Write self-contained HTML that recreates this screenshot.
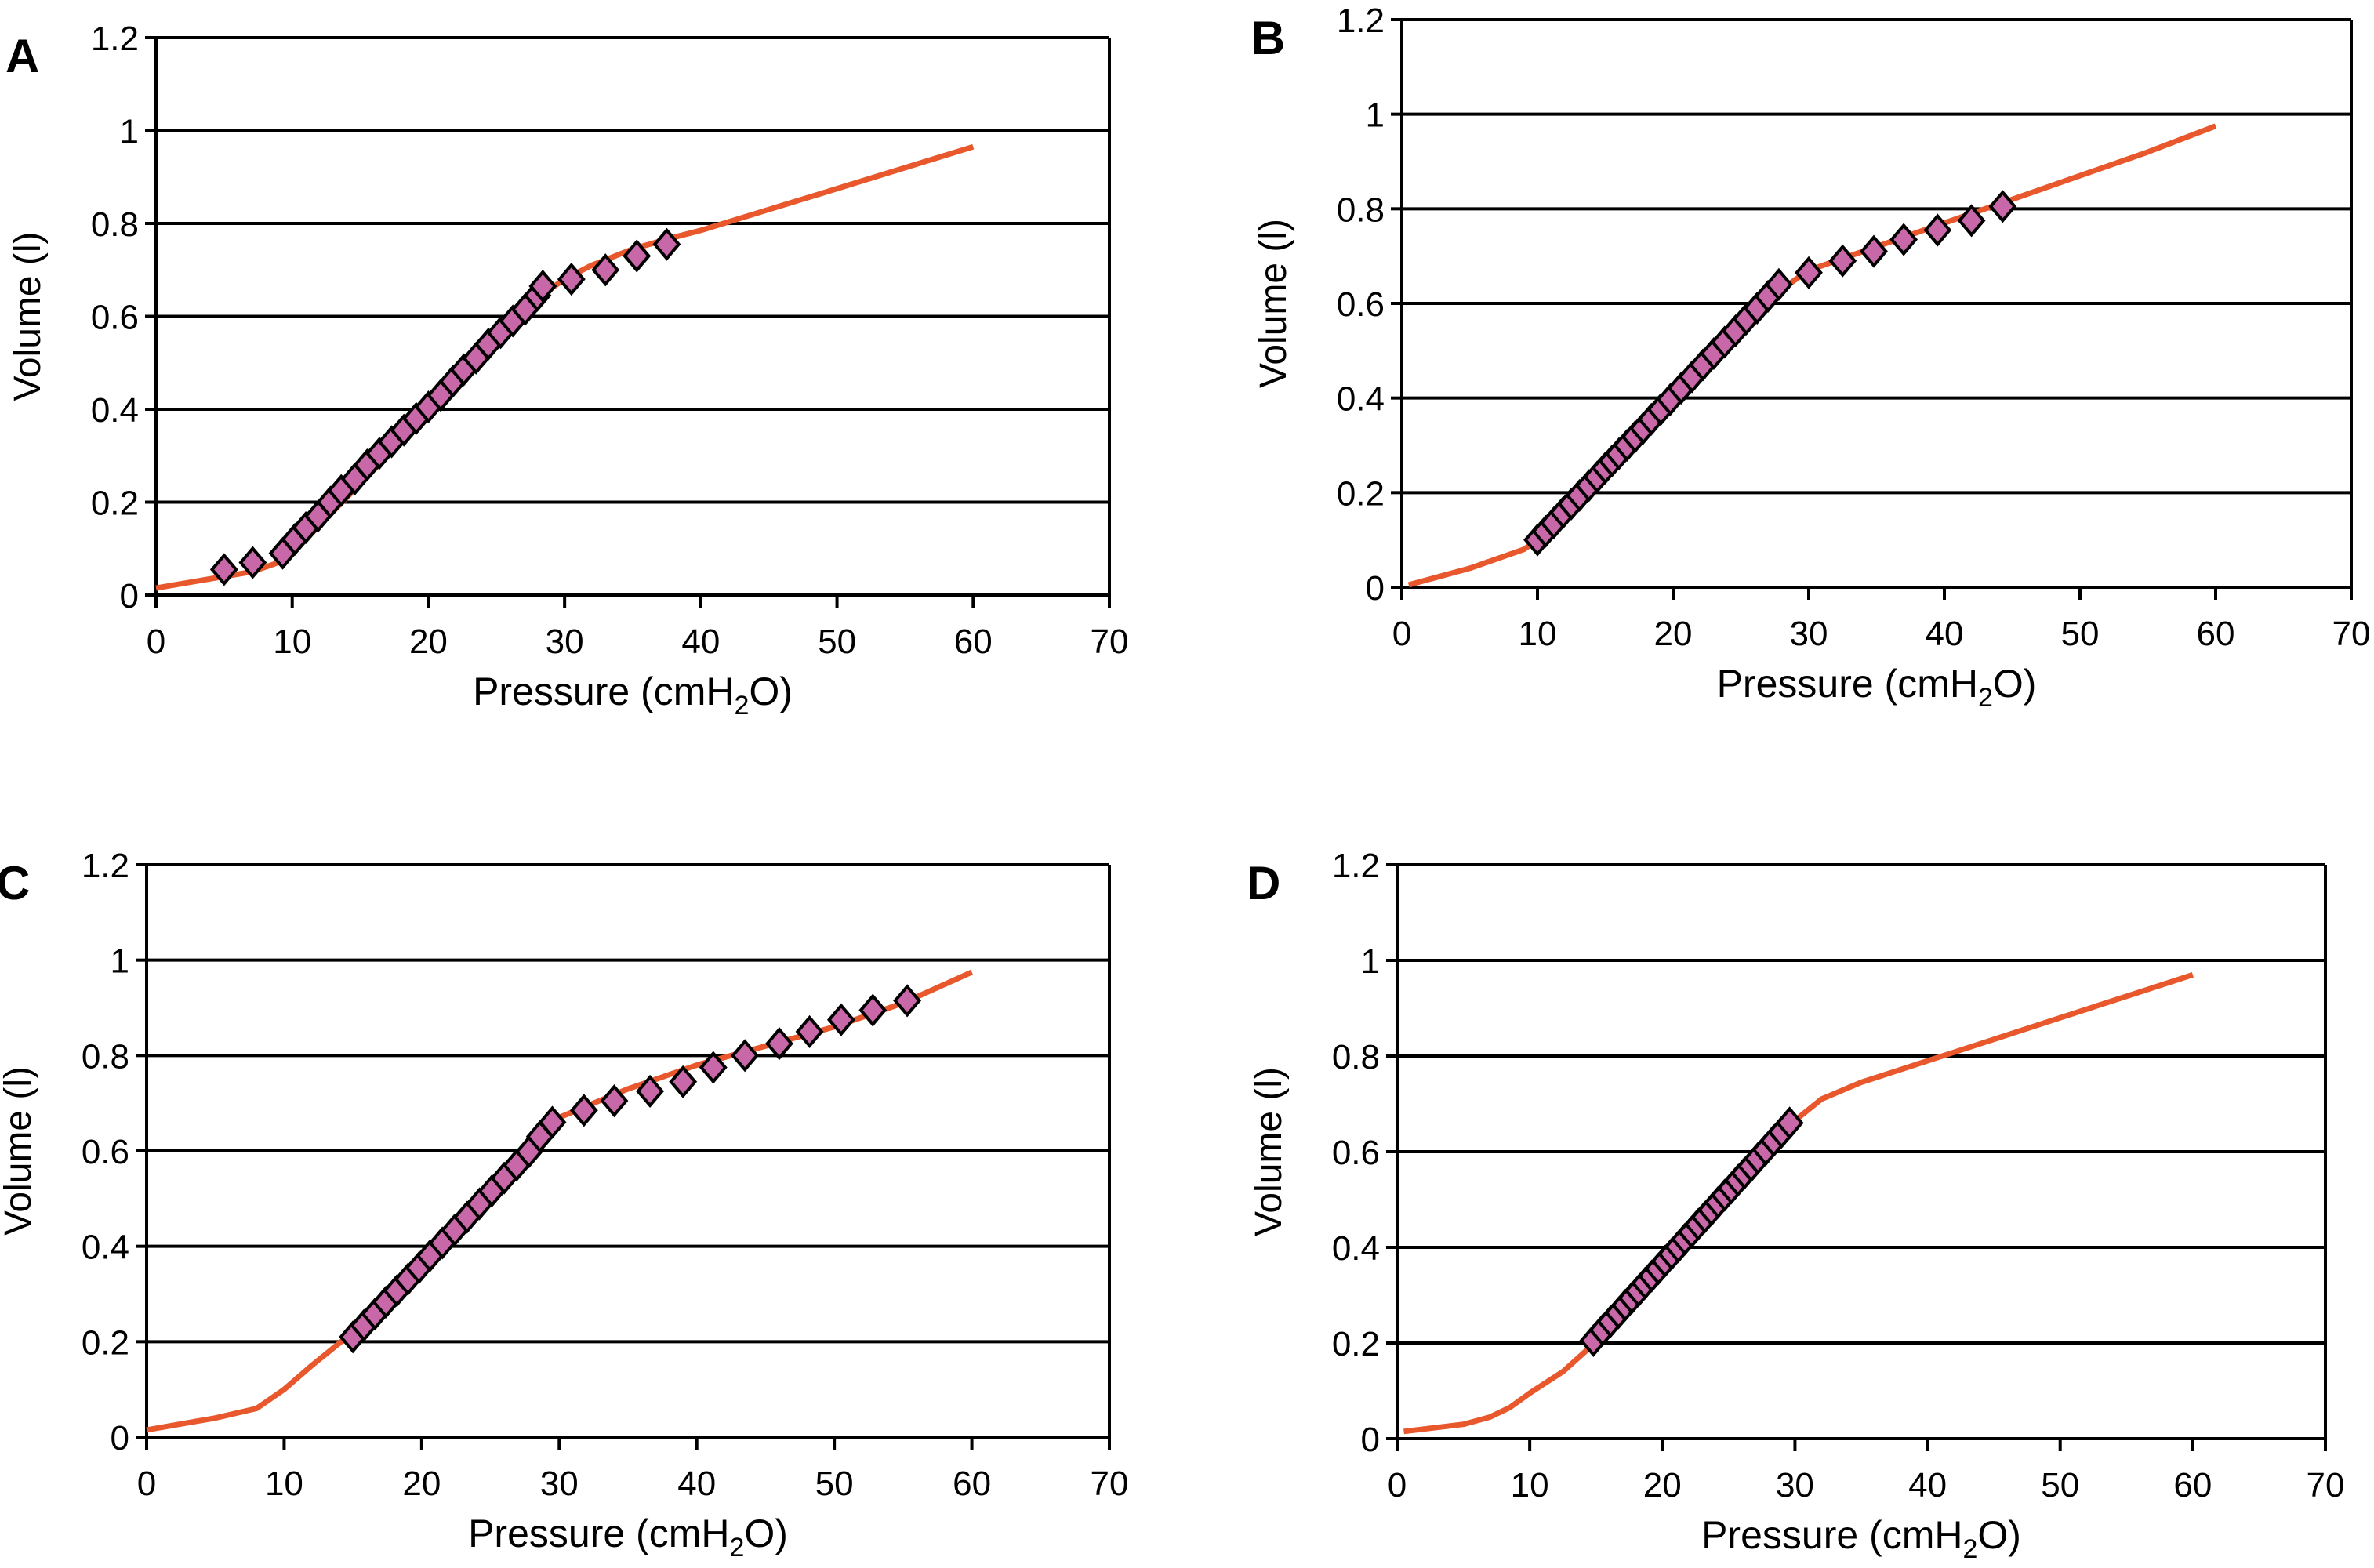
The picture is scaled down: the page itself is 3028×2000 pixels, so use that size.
<!DOCTYPE html>
<html><head><meta charset="utf-8"><style>
html,body{margin:0;padding:0;background:#fff;}
svg{display:block;}
text{font-family:"Liberation Sans Narrow","Liberation Sans",sans-serif;fill:#000;}
</style></head><body>
<svg id="chart" width="3028" height="2000" viewBox="0 0 3028 2000" xmlns="http://www.w3.org/2000/svg"></svg>
<script>
const xTicks=[0,10,20,30,40,50,60,70];
const yTicks=[0,0.2,0.4,0.6,0.8,1,1.2];
const yTickLabels=["0","0.2","0.4","0.6","0.8","1","1.2"];
const panelLetters=["A","B","C","D"];

const curveAx=[0,3,5,7,9,10,12,15,20,25,27,28,30,32,35,38,40,45,50,55,60];
const curveAy=[0.015,0.03,0.04,0.05,0.07,0.09,0.15,0.24,0.39,0.54,0.61,0.64,0.68,0.71,0.745,0.77,0.785,0.83,0.875,0.92,0.965];
const ptsAx=[5,7.1,9.3,10.2,11,11.9,12.8,13.6,14.6,15.5,16.4,17.3,18.2,19.1,20,20.9,21.8,22.6,23.5,24.4,25.3,26.2,27.1,28,28.4,30.5,33,35.3,37.5];
const ptsAy=[0.055,0.07,0.09,0.12,0.145,0.17,0.2,0.225,0.25,0.28,0.305,0.33,0.355,0.38,0.405,0.43,0.46,0.485,0.51,0.54,0.565,0.59,0.615,0.645,0.665,0.68,0.7,0.73,0.755];

const curveBx=[0.5,5,9,10,12,15,20,25,27,28,30,35,40,45,50,55,60];
const curveBy=[0.005,0.04,0.08,0.1,0.14,0.24,0.39,0.54,0.6,0.63,0.67,0.72,0.77,0.82,0.87,0.92,0.975];
const ptsBx=[10,10.6,11.2,11.9,12.5,13.1,13.8,14.4,15,15.5,16,16.6,17.2,17.8,18.4,19.1,19.8,20.6,21.4,22.2,23,23.8,24.6,25.4,26.2,27,27.8,30,32.5,34.8,37,39.5,42,44.3];
const ptsBy=[0.1,0.118,0.136,0.158,0.176,0.194,0.215,0.233,0.252,0.267,0.282,0.3,0.318,0.336,0.355,0.376,0.397,0.421,0.445,0.47,0.494,0.518,0.542,0.567,0.59,0.615,0.64,0.665,0.69,0.71,0.735,0.755,0.775,0.805];

const curveCx=[0,5,8,10,12,15,20,25,28,30,35,40,45,50,55,60];
const curveCy=[0.015,0.04,0.06,0.1,0.15,0.22,0.38,0.53,0.62,0.67,0.73,0.78,0.82,0.86,0.91,0.975];
const ptsCx=[15,15.8,16.6,17.4,18.2,19,19.8,20.6,21.5,22.4,23.3,24.2,25.1,26,26.9,27.8,28.6,29.5,31.8,34,36.6,39,41.2,43.5,46,48.2,50.5,52.8,55.3];
const ptsCy=[0.21,0.234,0.258,0.283,0.307,0.331,0.355,0.38,0.407,0.434,0.461,0.489,0.516,0.543,0.57,0.598,0.63,0.66,0.685,0.705,0.725,0.745,0.775,0.8,0.825,0.85,0.875,0.895,0.915];

const curveDx=[0.5,5,7,8.5,10,12.5,14.5,15,20,25,29,30,32,35,40,45,50,55,60];
const curveDy=[0.015,0.03,0.045,0.065,0.095,0.14,0.19,0.21,0.36,0.51,0.63,0.665,0.71,0.745,0.79,0.835,0.88,0.925,0.97];
const ptsDx=[14.8,15.5,16.1,16.7,17.2,17.7,18.2,18.7,19.2,19.7,20.2,20.7,21.2,21.7,22.2,22.7,23.2,23.7,24.2,24.7,25.2,25.7,26.2,26.7,27.2,27.8,28.4,29,29.6];
const ptsDy=[0.205,0.227,0.245,0.263,0.279,0.294,0.309,0.325,0.34,0.355,0.371,0.386,0.401,0.417,0.432,0.448,0.463,0.478,0.494,0.509,0.524,0.54,0.555,0.57,0.586,0.604,0.623,0.641,0.66];

const NS="http://www.w3.org/2000/svg";
const svg=document.getElementById('chart');
function mk(tag,attrs,parent){const e=document.createElementNS(NS,tag);for(const k in attrs)e.setAttribute(k,attrs[k]);(parent||svg).appendChild(e);return e;}

const panels=[
 {box:[199,48,1415,759],cx:curveAx,cy:curveAy,px:ptsAx,py:ptsAy},
 {box:[1788,25,2999,749],cx:curveBx,cy:curveBy,px:ptsBx,py:ptsBy},
 {box:[187,1103,1415,1833],cx:curveCx,cy:curveCy,px:ptsCx,py:ptsCy},
 {box:[1782,1103,2966,1835],cx:curveDx,cy:curveDy,px:ptsDx,py:ptsDy}
];

panels.forEach((p,i)=>{
 const [x0,y0,x1,y1]=p.box;
 const sx=v=>x0+(x1-x0)*v/70;
 const sy=v=>y1-(y1-y0)*v/1.2;
 const g=mk('g',{});
 
 
 const lt=mk('text',{x:x0-192,y:y0+44,'font-size':60,'font-weight':'bold','font-family':'Liberation Sans, sans-serif'},g);
 lt.textContent=panelLetters[i];
 
 
 yTicks.forEach((t,j)=>{
  const y=sy(t);
  if(j>0){const gl=mk('line',{x1:x0,x2:x1,y1:y,y2:y,stroke:'#000','stroke-width':4},g);
   
   }
  mk('line',{x1:x0-14,x2:x0,y1:y,y2:y,stroke:'#000','stroke-width':4},g);
  const tl=mk('text',{x:x0-22,y:y+16,'font-size':44,'text-anchor':'end'},g);
  tl.textContent=yTickLabels[j];
  
  
 });
 xTicks.forEach(t=>{
  const x=sx(t);
  mk('line',{x1:x,x2:x,y1:y1,y2:y1+16,stroke:'#000','stroke-width':4},g);
  const tl=mk('text',{x:x,y:y1+74,'font-size':44,'text-anchor':'middle'},g);
  tl.textContent=String(t);
  
  
 });
 const ax=mk('path',{d:`M${x0},${y0}V${y1}H${x1}V${y0}`,fill:'none',stroke:'#000','stroke-width':4},g);
 
 
 const yt=mk('text',{x:0,y:0,'font-size':48,'text-anchor':'middle','font-family':'Liberation Sans, sans-serif',transform:`translate(${x0-148},${(y0+y1)/2}) rotate(-90)`},g);
 yt.textContent='Volume (l)';
 
 
 const xt=mk('text',{x:(x0+x1)/2,y:y1+140,'font-size':50,'text-anchor':'middle'},g);
 xt.innerHTML='Pressure (cmH<tspan dy="12" font-size="34">2</tspan><tspan dy="-12">O)</tspan>';
 
 
 let d='';
 p.cx.forEach((v,k)=>{d+=(k?'L':'M')+sx(v).toFixed(1)+','+sy(p.cy[k]).toFixed(1);});
 const cl=mk('path',{d:d,fill:'none',stroke:'#e8582c','stroke-width':7,'stroke-linejoin':'round'},g);
 
 
 const r=18;
 p.px.forEach((v,k)=>{
  const x=sx(v),y=sy(p.py[k]);
  const dm=mk('path',{d:`M${x},${y-r}L${x+r*0.85},${y}L${x},${y+r}L${x-r*0.85},${y}Z`,fill:'#c868a8',stroke:'#000','stroke-width':4},g);
  
  
 });
});
</script>
</body></html>
